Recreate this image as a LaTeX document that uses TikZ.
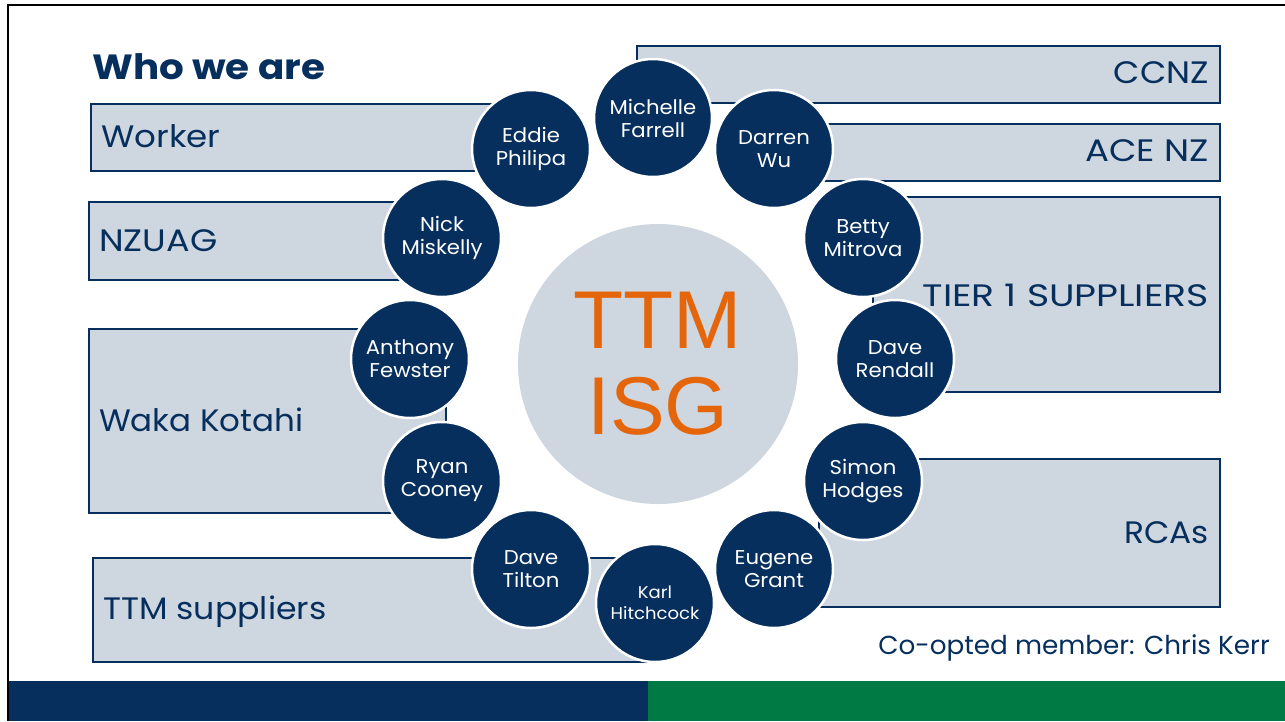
\documentclass[tikz,border=0pt]{standalone}
\usepackage{graphicx}
\usepackage{fontspec}
\setmainfont{Poppins}
\newfontfamily\arialf{Liberation Sans}
\definecolor{navy}{HTML}{062F5E}
\definecolor{boxfill}{HTML}{CED6DF}
\definecolor{ttmorange}{HTML}{E5660A}
\definecolor{bargreen}{HTML}{007A45}
\newcommand{\sx}[2]{\scalebox{#1}[1]{#2}}
\tikzset{
  orgbox/.style={draw=navy, line width=2pt, fill=boxfill, rectangle, inner sep=0pt, anchor=north west},
  boxlbl/.style={text=navy, font=\fontsize{31}{36}\selectfont, inner sep=0pt},
  person/.style={circle, fill=navy, draw=white, line width=2.5pt, minimum size=118pt, inner sep=0pt,
     text=white, align=center, font=\fontsize{20}{23}\selectfont},
}
\begin{document}
\begin{tikzpicture}[x=1pt,y=-1pt]
\useasboundingbox (0,0) rectangle (1285,721);
\fill[white] (0,0) rectangle (1285,721);
% frame lines
\draw[black, line width=2pt] (8,721) -- (8,5) -- (1285,5);
% bottom bars
\fill[navy] (9,681) rectangle (648,721);
\fill[bargreen] (648,681) rectangle (1285,721);
% title
\node[text=navy, font=\fontsize{35}{40}\selectfont\bfseries, anchor=west, inner sep=0pt] (title) at (92,67) {\sx{1.11}{Who we are}};
% left boxes
\node[orgbox, minimum width=405pt, minimum height=67pt] (worker) at (90,103) {};
\node[boxlbl, anchor=west] (workerlbl) at (101,136) {\sx{1.10}{Worker}};
\node[orgbox, minimum width=312pt, minimum height=78pt] (nzuag) at (88,201) {};
\node[boxlbl, anchor=west] (nzuaglbl) at (99,241) {\sx{1.13}{NZUAG}};
\node[orgbox, minimum width=357pt, minimum height=184pt] (waka) at (88,328) {};
\node[boxlbl, anchor=west] (wakalbl) at (99,420) {\sx{1.05}{Waka Kotahi}};
\node[orgbox, minimum width=556pt, minimum height=104pt] (ttmsup) at (92,557) {};
\node[boxlbl, anchor=west] (ttmsuplbl) at (103,612) {\sx{1.07}{TTM suppliers}};
% right boxes
\node[orgbox, minimum width=583pt, minimum height=57pt] (ccnz) at (636,45) {};
\node[boxlbl, anchor=east] (ccnzlbl) at (1209,73) {\sx{1.10}{CCNZ}};
\node[orgbox, minimum width=429pt, minimum height=57pt] (acenz) at (790,123) {};
\node[boxlbl, anchor=east] (acenzlbl) at (1209,151) {\sx{1.15}{ACE NZ}};
\node[orgbox, minimum width=347pt, minimum height=195pt] (tier) at (872,196) {};
\node[boxlbl, anchor=east] (tierlbl) at (1209,295) {\sx{1.22}{TIER 1 SUPPLIERS}};
\node[orgbox, minimum width=401pt, minimum height=148pt] (rcas) at (818,458) {};
\node[boxlbl, anchor=east] (rcaslbl) at (1209,533) {\sx{1.06}{RCAs}};
% co-opted
\node[text=navy, font=\fontsize{26}{31}\selectfont, anchor=east, inner sep=0pt] (coopt) at (1270,648) {\sx{1.01}{Co-opted member: Chris Kerr}};
% central circle
\node[circle, fill=boxfill, minimum size=280pt, inner sep=0pt, text=ttmorange, align=center,
  font=\arialf\fontsize{82}{86}\selectfont] (isg) at (658,364) {TTM\\ISG};
% people
\node[person] (michelle) at (653,118) {\sx{1.06}{Michelle}\\\sx{1.06}{Farrell}};
\node[person] (darren) at (774,149) {\sx{1.06}{Darren}\\\sx{1.06}{Wu}};
\node[person] (betty) at (863,238) {\sx{1.06}{Betty}\\\sx{1.06}{Mitrova}};
\node[person] (rendall) at (895,359) {\sx{1.06}{Dave}\\\sx{1.06}{Rendall}};
\node[person] (simon) at (863,481) {\sx{1.06}{Simon}\\\sx{1.06}{Hodges}};
\node[person] (eugene) at (774,569) {\sx{1.06}{Eugene}\\\sx{1.06}{Grant}};
\node[person, font=\fontsize{17}{21}\selectfont] (karl) at (655,603) {\sx{1.06}{Karl}\\\sx{1.06}{Hitchcock}};
\node[person] (tilton) at (531,569) {\sx{1.06}{Dave}\\\sx{1.06}{Tilton}};
\node[person] (ryan) at (442,481) {\sx{1.06}{Ryan}\\\sx{1.06}{Cooney}};
\node[person] (anthony) at (410,359) {\sx{1.06}{Anthony}\\\sx{1.06}{Fewster}};
\node[person] (nick) at (442,238) {\sx{1.06}{Nick}\\\sx{1.06}{Miskelly}};
\node[person] (eddie) at (531,149) {\sx{1.06}{Eddie}\\\sx{1.06}{Philipa}};
\end{tikzpicture}
\end{document}
